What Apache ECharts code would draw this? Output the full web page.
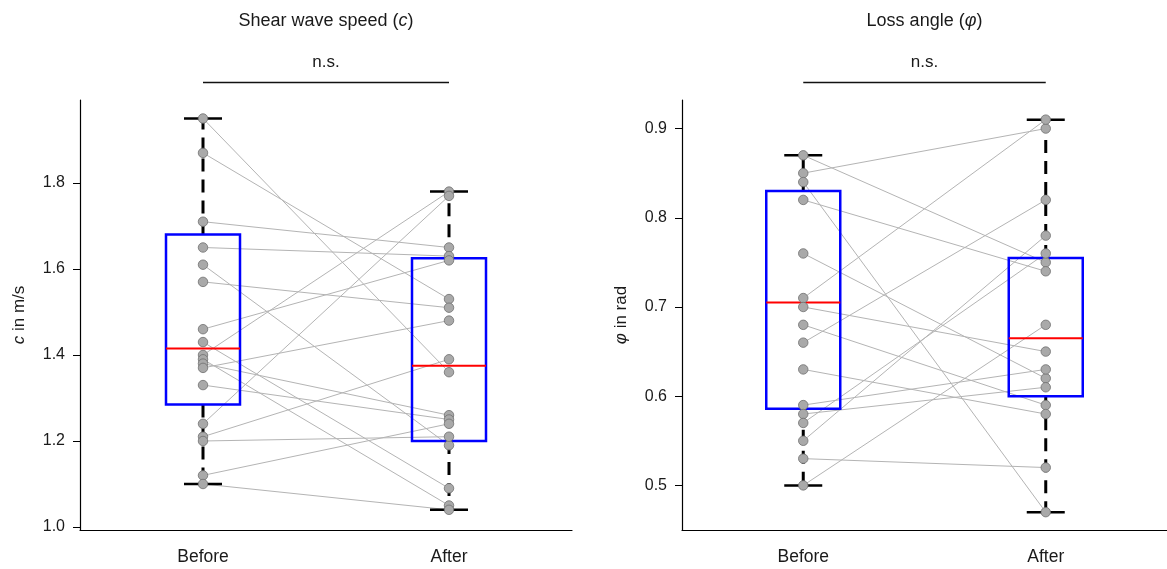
<!DOCTYPE html>
<html><head><meta charset="utf-8">
<script src="https://cdn.jsdelivr.net/npm/echarts@6/dist/echarts.min.js"></script>
<style>html,body{margin:0;padding:0;background:#fff}#c{width:1167px;height:569px}</style>
</head><body><div id="c"></div>
<script>
const categories = ['Before', 'After'];
const speedBefore = [1.95,1.87,1.71,1.65,1.61,1.57,1.46,1.43,1.40,1.39,1.38,1.37,1.33,1.24,1.21,1.20,1.12,1.10];
const speedAfter  = [1.36,1.53,1.65,1.63,1.19,1.51,1.62,1.09,1.78,1.05,1.26,1.48,1.25,1.77,1.39,1.21,1.24,1.04];
const angleBefore = [0.87,0.85,0.84,0.82,0.76,0.71,0.70,0.68,0.66,0.63,0.59,0.58,0.57,0.55,0.53,0.50];
const angleAfter  = [0.75,0.90,0.47,0.74,0.62,0.91,0.65,0.59,0.82,0.58,0.63,0.61,0.76,0.78,0.52,0.68];
// [min, Q1, median, Q3, max] for Before and After
const speedBoxBefore = [1.10, 1.285, 1.415, 1.68, 1.95];
const speedBoxAfter  = [1.04, 1.20, 1.375, 1.625, 1.78];
const angleBoxBefore = [0.50, 0.586, 0.705, 0.83, 0.87];
const angleBoxAfter  = [0.47, 0.60, 0.665, 0.755, 0.91];
const panelTitles = ['Shear wave speed ({i|c})', 'Loss angle ({i|φ})'];
const yNames = ['{i|c} in m/s', '{i|φ} in rad'];
const sigLabel = 'n.s.';
const speedRange = [0.993, 1.993];
const angleRange = [0.45, 0.932];

const FONT = '"Liberation Sans", Arial, Helvetica, sans-serif';
const TXT = '#1a1a1a';

function boxRender(params, api) {
  const i = api.value(0);
  const pMin = api.coord([i, api.value(1)]);
  const pQ1 = api.coord([i, api.value(2)]);
  const pMed = api.coord([i, api.value(3)]);
  const pQ3 = api.coord([i, api.value(4)]);
  const pMax = api.coord([i, api.value(5)]);
  const x = pMin[0], hw = 37, cw = 19;
  const wStyle = {stroke: '#000', lineWidth: 3, lineDash: [13, 8], fill: null};
  const cStyle = {stroke: '#000', lineWidth: 2.5, fill: null};
  return {type: 'group', children: [
    {type: 'line', shape: {x1: x, y1: pQ3[1], x2: x, y2: pMax[1]}, style: wStyle},
    {type: 'line', shape: {x1: x, y1: pQ1[1], x2: x, y2: pMin[1]}, style: wStyle},
    {type: 'line', shape: {x1: x - cw, y1: pMax[1], x2: x + cw, y2: pMax[1]}, style: cStyle},
    {type: 'line', shape: {x1: x - cw, y1: pMin[1], x2: x + cw, y2: pMin[1]}, style: cStyle},
    {type: 'rect', shape: {x: x - hw, y: pQ3[1], width: 2 * hw, height: pQ1[1] - pQ3[1]},
      style: {fill: 'none', stroke: '#0000ff', lineWidth: 2.5}},
    {type: 'line', shape: {x1: x - hw, y1: pMed[1], x2: x + hw, y2: pMed[1]},
      style: {stroke: '#ff0000', lineWidth: 2}}
  ]};
}

function annotRender(title) {
  return function (params, api) {
    const y0 = api.value(1);
    const p0 = api.coord([0, y0]);
    const p1 = api.coord([1, y0]);
    const top = params.coordSys.y;
    const cx = (p0[0] + p1[0]) / 2;
    return {type: 'group', children: [
      {type: 'line', shape: {x1: p0[0], y1: top - 17.5, x2: p1[0], y2: top - 17.5},
        style: {stroke: '#111', lineWidth: 1.4}},
      {type: 'text', style: {text: sigLabel, x: cx, y: top - 38, align: 'center', verticalAlign: 'middle',
        font: '17px ' + FONT, fill: TXT}},
      {type: 'text', style: {text: title, x: cx, y: top - 79, align: 'center', verticalAlign: 'middle',
        font: '18px ' + FONT, fill: TXT,
        rich: {i: {fontStyle: 'italic', fontSize: 18, fontFamily: FONT, fill: TXT}}}}
    ]};
  };
}

const panels = [
  {before: speedBefore, after: speedAfter, boxes: [speedBoxBefore, speedBoxAfter], range: speedRange},
  {before: angleBefore, after: angleAfter, boxes: [angleBoxBefore, angleBoxAfter], range: angleRange}
];

const grids = [
  {left: 80, top: 100, width: 492, height: 430},
  {left: 682, top: 100, width: 490, height: 430}
];

const xAxes = panels.map((p, k) => ({
  type: 'category', gridIndex: k, data: categories, boundaryGap: true,
  axisLine: {lineStyle: {color: '#000', width: 1.2}},
  axisTick: {alignWithLabel: true, length: 5, lineStyle: {color: '#000'}},
  axisLabel: {color: TXT, fontSize: 17.5, fontFamily: FONT, margin: 18},
  splitLine: {show: false}
}));

const yAxes = panels.map((p, k) => ({
  type: 'value', gridIndex: k, min: p.range[0], max: p.range[1], splitNumber: 5,
  name: yNames[k], nameLocation: 'middle', nameRotate: 90, nameGap: 52,
  nameTextStyle: {color: TXT, fontSize: 17, fontFamily: FONT,
    rich: {i: {fontStyle: 'italic', fontSize: 17, fontFamily: FONT, color: TXT}}},
  axisLine: {show: true, lineStyle: {color: '#000', width: 1.2}},
  axisTick: {show: true, length: 7, lineStyle: {color: '#000'}},
  axisLabel: {color: TXT, fontSize: 16, fontFamily: FONT, margin: 15,
    showMinLabel: false, showMaxLabel: false, formatter: v => v.toFixed(1)},
  splitLine: {show: false}
}));

const series = [];
panels.forEach((p, k) => {
  p.before.forEach((b, i) => {
    series.push({type: 'line', xAxisIndex: k, yAxisIndex: k, data: [b, p.after[i]],
      symbol: 'none', silent: true, z: 2,
      lineStyle: {color: '#b4b4b4', width: 1}});
  });
  series.push({type: 'custom', xAxisIndex: k, yAxisIndex: k, z: 3, silent: true,
    renderItem: boxRender,
    data: p.boxes.map((bx, j) => [j].concat(bx))});
  series.push({type: 'scatter', xAxisIndex: k, yAxisIndex: k, z: 4, silent: true,
    symbolSize: 9.5,
    itemStyle: {color: '#a9a9a9', borderColor: '#707070', borderWidth: 0.8, opacity: 1},
    data: p.before.map(v => [0, v]).concat(p.after.map(v => [1, v]))});
  series.push({type: 'custom', xAxisIndex: k, yAxisIndex: k, z: 5, silent: true, clip: false,
    renderItem: annotRender(panelTitles[k]),
    data: [[0, p.range[0]]]});
});

const chart = echarts.init(document.getElementById('c'), null, {renderer: 'canvas'});
chart.setOption({
  animation: false,
  backgroundColor: '#fff',
  grid: grids,
  xAxis: xAxes,
  yAxis: yAxes,
  series: series
});
</script></body></html>
